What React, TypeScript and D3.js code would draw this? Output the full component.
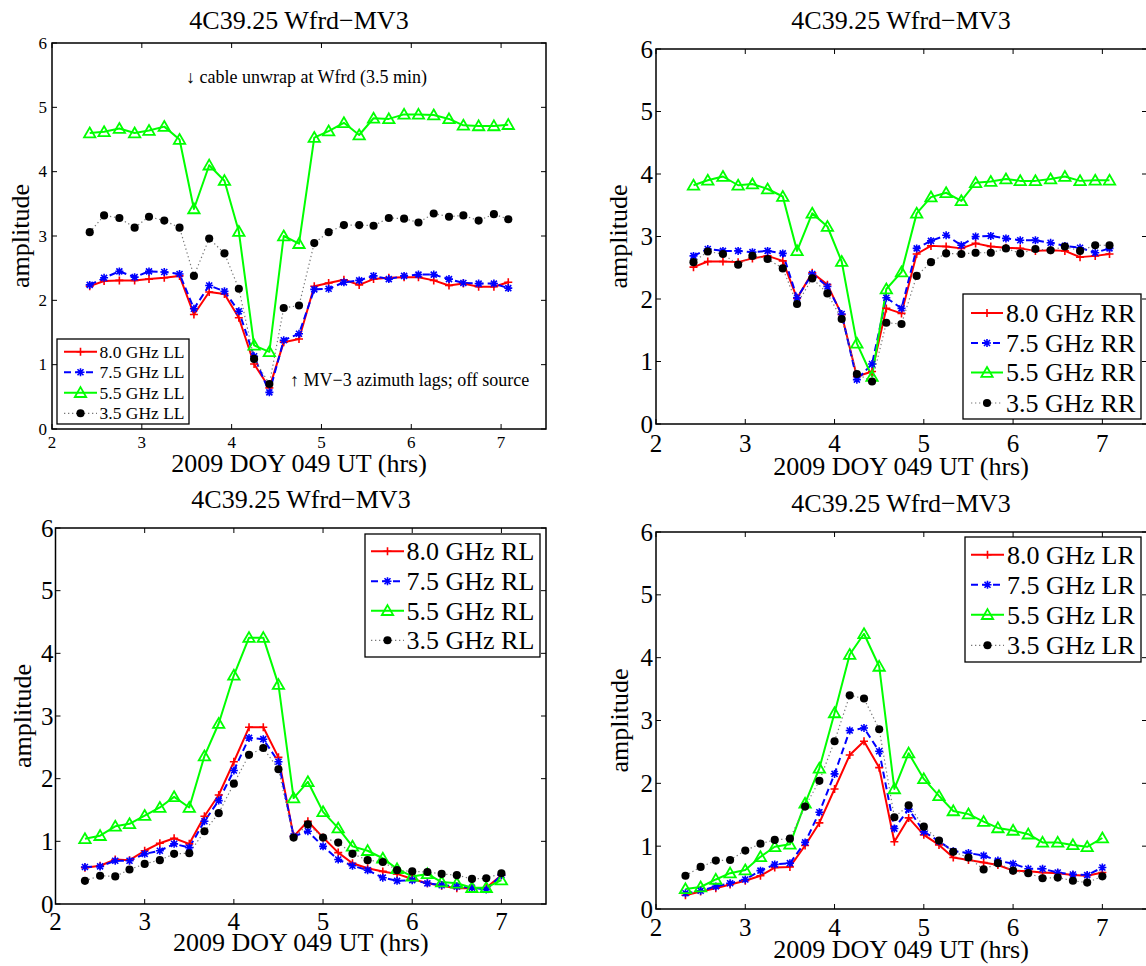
import React from "react";
import * as d3 from "d3";

const W = 1146;
const H = 966;

// Times (hours UT)
const timesTop = [2.42, 2.58, 2.75, 2.92, 3.08, 3.25, 3.42, 3.58, 3.75, 3.92, 4.08, 4.25, 4.42, 4.58, 4.75, 4.92, 5.08, 5.25, 5.42, 5.58, 5.75, 5.92, 6.08, 6.25, 6.42, 6.58, 6.75, 6.92, 7.08];
const timesBottom = [2.33, 2.5, 2.67, 2.83, 3.0, 3.17, 3.33, 3.5, 3.67, 3.83, 4.0, 4.17, 4.33, 4.5, 4.67, 4.83, 5.0, 5.17, 5.33, 5.5, 5.67, 5.83, 6.0, 6.17, 6.33, 6.5, 6.67, 6.83, 7.0];

// LL
const ll80 = [2.22, 2.3, 2.31, 2.31, 2.33, 2.35, 2.38, 1.78, 2.13, 2.1, 1.73, 1.01, 0.64, 1.35, 1.4, 2.22, 2.27, 2.32, 2.24, 2.33, 2.35, 2.36, 2.36, 2.31, 2.23, 2.26, 2.21, 2.21, 2.28];
const ll75 = [2.24, 2.35, 2.45, 2.36, 2.45, 2.44, 2.41, 1.87, 2.23, 2.14, 1.83, 1.13, 0.57, 1.38, 1.48, 2.17, 2.18, 2.28, 2.31, 2.38, 2.33, 2.38, 2.4, 2.4, 2.33, 2.27, 2.26, 2.26, 2.19];
const ll55 = [4.6, 4.62, 4.67, 4.6, 4.64, 4.7, 4.5, 3.42, 4.1, 3.86, 3.07, 1.3, 1.2, 3.0, 2.88, 4.53, 4.63, 4.76, 4.57, 4.83, 4.82, 4.89, 4.89, 4.88, 4.82, 4.72, 4.71, 4.71, 4.73];
const ll35 = [3.06, 3.32, 3.28, 3.13, 3.3, 3.24, 3.13, 2.38, 2.96, 2.73, 2.18, 1.09, 0.7, 1.88, 1.92, 2.89, 3.06, 3.17, 3.17, 3.16, 3.28, 3.27, 3.21, 3.35, 3.3, 3.32, 3.24, 3.34, 3.26];

// RR
const rr80 = [2.51, 2.6, 2.6, 2.59, 2.65, 2.69, 2.61, 2.01, 2.42, 2.23, 1.75, 0.76, 0.84, 1.85, 1.77, 2.72, 2.85, 2.84, 2.81, 2.89, 2.84, 2.82, 2.81, 2.77, 2.78, 2.77, 2.67, 2.69, 2.72];
const rr75 = [2.69, 2.8, 2.77, 2.77, 2.75, 2.77, 2.73, 2.02, 2.4, 2.2, 1.76, 0.71, 0.96, 2.02, 1.85, 2.81, 2.93, 3.02, 2.86, 3.0, 3.01, 2.97, 2.94, 2.94, 2.9, 2.85, 2.82, 2.74, 2.81];
const rr55 = [3.82, 3.9, 3.96, 3.82, 3.84, 3.76, 3.64, 2.77, 3.37, 3.16, 2.6, 1.29, 0.76, 2.16, 2.43, 3.37, 3.63, 3.7, 3.57, 3.86, 3.88, 3.92, 3.89, 3.89, 3.92, 3.96, 3.89, 3.9, 3.9];
const rr35 = [2.59, 2.76, 2.72, 2.55, 2.69, 2.64, 2.49, 1.92, 2.33, 2.09, 1.68, 0.8, 0.68, 1.62, 1.6, 2.37, 2.59, 2.73, 2.72, 2.74, 2.74, 2.81, 2.73, 2.8, 2.78, 2.84, 2.77, 2.86, 2.86];

// RL
const rl80 = [0.58, 0.61, 0.71, 0.7, 0.85, 0.97, 1.05, 0.96, 1.4, 1.74, 2.27, 2.82, 2.82, 2.34, 1.08, 1.32, 1.06, 0.82, 0.65, 0.57, 0.52, 0.48, 0.4, 0.33, 0.29, 0.25, 0.25, 0.26, 0.46];
const rl75 = [0.59, 0.6, 0.69, 0.69, 0.8, 0.85, 0.96, 0.9, 1.32, 1.65, 2.13, 2.65, 2.63, 2.27, 1.08, 1.16, 0.92, 0.71, 0.61, 0.54, 0.42, 0.37, 0.38, 0.33, 0.3, 0.28, 0.26, 0.23, 0.46];
const rl55 = [1.04, 1.09, 1.24, 1.28, 1.41, 1.54, 1.71, 1.54, 2.36, 2.88, 3.65, 4.25, 4.25, 3.5, 1.69, 1.95, 1.47, 1.21, 0.92, 0.85, 0.73, 0.56, 0.44, 0.48, 0.35, 0.33, 0.26, 0.26, 0.38];
const rl35 = [0.37, 0.45, 0.44, 0.55, 0.64, 0.7, 0.8, 0.81, 1.16, 1.45, 1.92, 2.38, 2.49, 2.15, 1.06, 1.27, 1.06, 0.98, 0.8, 0.7, 0.67, 0.54, 0.52, 0.51, 0.48, 0.46, 0.4, 0.41, 0.49];

// LR
const lr80 = [0.22, 0.28, 0.33, 0.39, 0.45, 0.53, 0.66, 0.67, 1.01, 1.37, 1.91, 2.45, 2.67, 2.25, 1.07, 1.45, 1.18, 1.02, 0.82, 0.78, 0.74, 0.7, 0.61, 0.6, 0.58, 0.57, 0.54, 0.53, 0.58];
const lr75 = [0.25, 0.29, 0.36, 0.41, 0.47, 0.61, 0.71, 0.73, 1.06, 1.54, 2.15, 2.84, 2.88, 2.51, 1.28, 1.59, 1.23, 1.08, 0.92, 0.89, 0.85, 0.77, 0.72, 0.64, 0.64, 0.58, 0.55, 0.54, 0.66];
const lr55 = [0.32, 0.35, 0.47, 0.57, 0.62, 0.83, 0.99, 1.03, 1.68, 2.24, 3.12, 4.05, 4.38, 3.86, 1.91, 2.48, 2.07, 1.8, 1.56, 1.51, 1.39, 1.29, 1.25, 1.19, 1.06, 1.06, 1.02, 0.99, 1.13];
const lr35 = [0.53, 0.67, 0.77, 0.78, 0.93, 1.04, 1.1, 1.12, 1.63, 2.04, 2.67, 3.4, 3.35, 2.86, 1.46, 1.65, 1.31, 1.09, 0.91, 0.82, 0.63, 0.73, 0.61, 0.57, 0.49, 0.5, 0.45, 0.42, 0.52];

const freqLabels = ["8.0 GHz", "7.5 GHz", "5.5 GHz", "3.5 GHz"];
const xTicks = [2, 3, 4, 5, 6, 7];
const yTicks = [0, 1, 2, 3, 4, 5, 6];
const titleText = "4C39.25 Wfrd\u2212MV3";
const xLabelText = "2009 DOY 049 UT (hrs)";
const yLabelText = "amplitude";
const noteTop = "\u2193 cable unwrap at Wfrd (3.5 min)";
const noteBottom = "\u2191 MV\u22123 azimuth lags; off source";

const FONT = "'Liberation Serif', 'Times New Roman', Times, serif";

type SeriesStyle = { color: string; width: number; dash?: string; marker: string };
const styles: SeriesStyle[] = [
  { color: "#ff0000", width: 2, marker: "plus" },
  { color: "#0000ff", width: 2, dash: "7,4", marker: "star" },
  { color: "#00ff00", width: 2, marker: "tri" },
  { color: "#777777", width: 1.2, dash: "1.3,2.7", marker: "dot" },
];

const triPath = d3.symbol(d3.symbolTriangle, 56)() as string;
const dotPath = d3.symbol(d3.symbolCircle, 52)() as string;

function Marker({ kind, x, y, color }: { kind: string; x: number; y: number; color: string }) {
  const s = 4;
  const k = 3;
  if (kind === "plus")
    return <path transform={`translate(${x},${y})`} d={`M${-s},0H${s}M0,${-s}V${s}`} stroke={color} strokeWidth={1.6} fill="none" />;
  if (kind === "star")
    return (
      <path
        transform={`translate(${x},${y})`}
        d={`M${-s},0H${s}M0,${-s}V${s}M${-k},${-k}L${k},${k}M${-k},${k}L${k},${-k}`}
        stroke={color}
        strokeWidth={1.6}
        fill="none"
      />
    );
  if (kind === "tri")
    return <path transform={`translate(${x},${y + 1})`} d={triPath} stroke="#00ff00" strokeWidth={1.8} fill="none" />;
  return <path transform={`translate(${x},${y})`} d={dotPath} fill="#000" />;
}

type PanelCfg = {
  left: number; right: number; top: number; bottom: number;
  tickFont: number; xTickBase: number; yTickGap: number;
  titleX: number; titleBase: number;
  xLabelBase: number; yLabelX: number;
  times: number[]; series: number[][]; pol: string;
  legend: { x0: number; y0: number; x1: number; y1: number; rows: number[]; s0: number; s1: number; tx: number; font: number };
  notes?: boolean;
};

const panels: PanelCfg[] = [
  {
    left: 52, right: 546, top: 43, bottom: 429,
    tickFont: 17, xTickBase: 448, yTickGap: 5,
    titleX: 299, titleBase: 29, xLabelBase: 472, yLabelX: 20,
    times: timesTop, series: [ll80, ll75, ll55, ll35], pol: "LL",
    legend: { x0: 57, y0: 339, x1: 189, y1: 424, rows: [351.7, 372.3, 392.7, 413.3], s0: 64, s1: 97, tx: 99.5, font: 17.5 },
    notes: true,
  },
  {
    left: 656, right: 1147, top: 49, bottom: 424,
    tickFont: 25, xTickBase: 452, yTickGap: 3,
    titleX: 901, titleBase: 29, xLabelBase: 475, yLabelX: 618,
    times: timesTop, series: [rr80, rr75, rr55, rr35], pol: "RR",
    legend: { x0: 963, y0: 294, x1: 1141, y1: 419, rows: [313, 343, 372.5, 403], s0: 971, s1: 1003, tx: 1006, font: 26 },
  },
  {
    left: 55.5, right: 546, top: 528, bottom: 904,
    tickFont: 25, xTickBase: 930, yTickGap: 2,
    titleX: 301, titleBase: 508, xLabelBase: 951, yLabelX: 22,
    times: timesBottom, series: [rl80, rl75, rl55, rl35], pol: "RL",
    legend: { x0: 365, y0: 534, x1: 540, y1: 657, rows: [551.3, 581.3, 610.7, 640.3], s0: 371, s1: 404, tx: 406.5, font: 26 },
  },
  {
    left: 656, right: 1147, top: 532, bottom: 909,
    tickFont: 25, xTickBase: 936, yTickGap: 3,
    titleX: 901, titleBase: 512, xLabelBase: 958, yLabelX: 619,
    times: timesBottom, series: [lr80, lr75, lr55, lr35], pol: "LR",
    legend: { x0: 965, y0: 537, x1: 1141, y1: 662, rows: [554.7, 584.7, 614.7, 645.3], s0: 971, s1: 1004, tx: 1007, font: 26 },
  },
];

function Panel({ cfg }: { cfg: PanelCfg }) {
  const x = d3.scaleLinear().domain([2, 7.5]).range([cfg.left, cfg.right]);
  const y = d3.scaleLinear().domain([0, 6]).range([cfg.bottom, cfg.top]);
  const line = d3
    .line<number>()
    .x((_, i) => x(cfg.times[i]))
    .y((d) => y(d));
  const tl = 5;
  const L = cfg.legend;
  return (
    <g fontFamily={FONT} fill="#000">
      <text x={cfg.titleX} y={cfg.titleBase} fontSize={26} textAnchor="middle">{titleText}</text>
      {cfg.series.map((s, si) => (
        <path
          key={"l" + si}
          d={line(s) as string}
          fill="none"
          stroke={styles[si].color}
          strokeWidth={styles[si].width}
          strokeDasharray={styles[si].dash}
          strokeLinejoin="round"
        />
      ))}
      {cfg.series.map((s, si) =>
        s.map((v, i) => <Marker key={`m${si}-${i}`} kind={styles[si].marker} x={x(cfg.times[i])} y={y(v)} color={styles[si].color} />)
      )}
      <rect x={cfg.left} y={cfg.top} width={cfg.right - cfg.left} height={cfg.bottom - cfg.top} fill="none" stroke="#000" strokeWidth={1.5} />
      {xTicks.map((t) => (
        <g key={"xt" + t}>
          <line x1={x(t)} x2={x(t)} y1={cfg.bottom} y2={cfg.bottom - tl} stroke="#000" strokeWidth={1} />
          <line x1={x(t)} x2={x(t)} y1={cfg.top} y2={cfg.top + tl} stroke="#000" strokeWidth={1} />
          <text x={x(t)} y={cfg.xTickBase} fontSize={cfg.tickFont} textAnchor="middle">{t}</text>
        </g>
      ))}
      {yTicks.map((t) => (
        <g key={"yt" + t}>
          <line x1={cfg.left} x2={cfg.left + tl} y1={y(t)} y2={y(t)} stroke="#000" strokeWidth={1} />
          <line x1={cfg.right} x2={cfg.right - tl} y1={y(t)} y2={y(t)} stroke="#000" strokeWidth={1} />
          <text x={cfg.left - cfg.yTickGap} y={y(t) + cfg.tickFont * 0.34} fontSize={cfg.tickFont} textAnchor="end">{t}</text>
        </g>
      ))}
      <text x={(cfg.left + Math.min(cfg.right, W)) / 2} y={cfg.xLabelBase} fontSize={26} textAnchor="middle">{xLabelText}</text>
      <text
        transform={`translate(${cfg.yLabelX},${(cfg.top + cfg.bottom) / 2}) rotate(-90)`}
        fontSize={26}
        textAnchor="middle"
        dominantBaseline="central"
      >
        {yLabelText}
      </text>
      <rect x={L.x0} y={L.y0} width={L.x1 - L.x0} height={L.y1 - L.y0} fill="#fff" stroke="#000" strokeWidth={1.3} />
      {freqLabels.map((f, i) => (
        <g key={"lg" + i}>
          <line
            x1={L.s0}
            x2={L.s1}
            y1={L.rows[i]}
            y2={L.rows[i]}
            stroke={styles[i].color}
            strokeWidth={styles[i].width}
            strokeDasharray={styles[i].dash}
          />
          <Marker kind={styles[i].marker} x={(L.s0 + L.s1) / 2} y={L.rows[i]} color={styles[i].color} />
          <text x={L.tx} y={L.rows[i] + L.font * 0.34} fontSize={L.font}>{`${f} ${cfg.pol}`}</text>
        </g>
      ))}
      {cfg.notes && (
        <g fontSize={18}>
          <text x={186} y={83}>{noteTop}</text>
          <text x={290} y={386}>{noteBottom}</text>
        </g>
      )}
    </g>
  );
}

export default function App() {
  return (
    <svg
      width={W}
      height={H}
      viewBox={`0 0 ${W} ${H}`}
      style={{ position: "absolute", left: 0, top: 0, background: "#fff" }}
    >
      <rect x={0} y={0} width={W} height={H} fill="#fff" />
      {panels.map((p, i) => (
        <Panel key={i} cfg={p} />
      ))}
    </svg>
  );
}
